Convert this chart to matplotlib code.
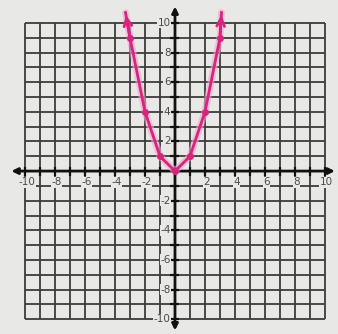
import numpy as np
import matplotlib.pyplot as plt

# data: y = x^2 table points
xs = [-3, -2, -1, 0, 1, 2, 3]
ys = [9, 4, 1, 0, 1, 4, 9]
arrow_ends = [(-3.3, 10.7), (3.1, 10.7)]
tick_vals = [-10, -8, -6, -4, -2, 2, 4, 6, 8, 10]

bg = "#e8e8e6"
grid_col = "#3c3c3c"
curve_col = "#d8247c"

fig = plt.figure(figsize=(3.38, 3.34), dpi=100, facecolor=bg)
ax = fig.add_axes([0, 0, 1, 1])
ax.set_facecolor(bg)
ax.set_xlim(-11.67, 10.87)
ax.set_ylim(-11.0, 11.55)
ax.axis("off")

# graph paper
units = np.arange(-10, 11)
ax.vlines(units, -10, 10, color=grid_col, lw=1.3, zorder=1)
ax.hlines(units, -10, 10, color=grid_col, lw=1.3, zorder=1)

# axes with arrows
ax.annotate("", xy=(10.85, 0), xytext=(-11.1, 0),
            arrowprops=dict(arrowstyle="<|-|>", color="#111", lw=2.0,
                            mutation_scale=9), zorder=3)
ax.annotate("", xy=(0, 11.3), xytext=(0, -10.95),
            arrowprops=dict(arrowstyle="<|-|>", color="#111", lw=2.0,
                            mutation_scale=9), zorder=3)
# little ticks on the axes
ax.vlines(units, -0.3, 0.3, color="#111", lw=1.6, zorder=3)
ax.hlines(units, -0.3, 0.3, color="#111", lw=1.6, zorder=3)

# tick labels
for v in tick_vals:
    ax.text(v + 0.1, -0.75, str(v), ha="center", va="center", fontsize=7.5,
            color="#4a4a4a", zorder=4,
            bbox=dict(boxstyle="square,pad=0.05", fc=bg, ec="none"))
    ax.text(-0.3, v, str(v), ha="right", va="center", fontsize=7.5,
            color="#4a4a4a", zorder=4,
            bbox=dict(boxstyle="square,pad=0.05", fc=bg, ec="none"))

# parabola: glow then line
px = [arrow_ends[0][0]] + xs + [arrow_ends[1][0]]
py = [arrow_ends[0][1]] + ys + [arrow_ends[1][1]]
ax.plot(px, py, color="#f4a6cc", lw=5, alpha=0.6, zorder=5,
        solid_capstyle="round")
ax.plot(px, py, color=curve_col, lw=2.0, zorder=6)
ax.plot(xs, ys, "o", color=curve_col, ms=4, zorder=7)
for (ex, ey), (sx, sy) in zip(arrow_ends, [(xs[0], ys[0]), (xs[-1], ys[-1])]):
    ax.annotate("", xy=(ex, ey), xytext=(sx, sy),
                arrowprops=dict(arrowstyle="->", color=curve_col, lw=2.0,
                                mutation_scale=14), zorder=7)

fig.savefig("out.png", dpi=100, facecolor=bg)
